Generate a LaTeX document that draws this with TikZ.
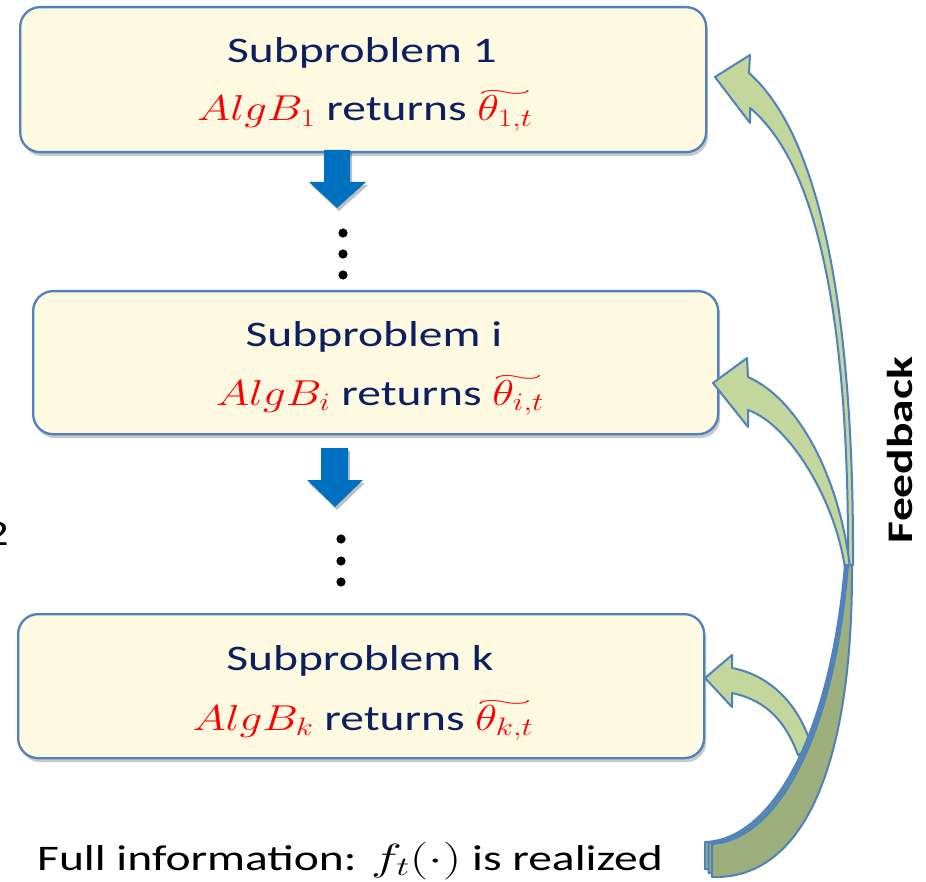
\RequirePackage{fix-cm}
\documentclass[tikz,border=0pt]{standalone}
\usepackage{fontspec}
\usepackage{graphicx}
\setmainfont{Carlito}[FakeStretch=1.32]
\usetikzlibrary{shadows}
\definecolor{boxfill}{HTML}{FEF9E1}
\definecolor{boxline}{HTML}{4F81BD}
\definecolor{navy}{HTML}{0C1F5E}
\definecolor{arrblue}{HTML}{0070C0}
\definecolor{lgreen}{HTML}{C3D69B}
\definecolor{dgreen}{HTML}{9DAF7C}
\newcommand{\mx}[1]{\scalebox{1.25}[1]{$#1$}}
\newcommand{\mxb}[1]{\scalebox{1.45}[1.05]{$#1$}}
\newcommand{\wtil}[1]{\setbox0\hbox{\mx{#1}}\vbox{\offinterlineskip\halign{\hss##\hss\cr
  \resizebox{\wd0}{6pt}{$\sim$}\cr\noalign{\kern-1pt}\box0\cr}}}
\begin{document}
\begin{tikzpicture}[x=1pt,y=-1pt,
  subbox/.style={draw=boxline, line width=2.3pt, fill=boxfill, rounded corners=20pt,
    anchor=north west, inner sep=0pt,
    drop shadow={shadow xshift=2pt,shadow yshift=-4pt,opacity=0.3,fill=black!70}},
  boxtext/.style={anchor=base, text=navy, font=\fontsize{36}{40}\selectfont, inner sep=0pt},
  greenarrow/.style={draw=boxline, line width=2pt, fill=lgreen, line join=round},
  darkband/.style={draw=boxline, line width=2pt, fill=dgreen, line join=round},
  bluearrow/.style={fill=arrblue},
  arrshadow/.style={fill=black, opacity=0.25},
  dot/.style={fill=black}]
\useasboundingbox (0,0) rectangle (926,882);

% boxes
\node[subbox, minimum width=686pt, minimum height=145pt] (b1) at (19,6) {};
\node[subbox, minimum width=685pt, minimum height=143pt] (bi) at (32,290) {};
\node[subbox, minimum width=686pt, minimum height=144pt] (bk) at (17,613) {};

% texts
\node[boxtext] (t1a) at (362,63) {Subproblem 1};
\node[boxtext] (t1b) at (365,121) {{\color{red}\mx{AlgB_1}} returns {\color{red}\wtil{\theta_{1,t}}}};
\node[boxtext] (tia) at (374,347) {Subproblem i};
\node[boxtext] (tib) at (380,405) {{\color{red}\mx{AlgB_i}} returns {\color{red}\wtil{\theta_{i,t}}}};
\node[boxtext] (tka) at (360,670) {Subproblem k};
\node[boxtext] (tkb) at (363,730) {{\color{red}\mx{AlgB_k}} returns {\color{red}\wtil{\theta_{k,t}}}};

\node[anchor=base west, inner sep=0pt, font=\fontsize{36}{40}\selectfont] (full) at (37,870)
  {Full information: \mxb{f_t(\cdot)} is realized};
\node[anchor=base east, inner sep=0pt, font=\fontsize{36}{40}\selectfont] (two) at (9,545) {2};
\node[rotate=90, inner sep=0pt, font=\bfseries\fontsize{36}{40}\selectfont] (fb) at (900,450) {Feedback};

% blue block arrows
\path[arrshadow] (326,153) -- (352,153) -- (352,185) -- (368,185) -- (339,211) -- (311,185) -- (326,185) -- cycle;
\path[bluearrow] (324,150) -- (350,150) -- (350,182) -- (366,182) -- (337,208) -- (309,182) -- (324,182) -- cycle;
\path[arrshadow] (323,451) -- (350,451) -- (350,483) -- (365,483) -- (337,510) -- (309,483) -- (323,483) -- cycle;
\path[bluearrow] (321,448) -- (348,448) -- (348,480) -- (363,480) -- (335,507) -- (307,480) -- (321,480) -- cycle;

% dots
\foreach \yy in {233,254,275} \fill[dot] (343,\yy) circle (4.6);
\foreach \yy in {539,561,582} \fill[dot] (341,\yy) circle (4.6);

% green curved arrows (light parts)
\path[greenarrow] (715,77) -- (750,55) -- (749,73) .. controls (825,140) and (854,330) .. (853,565)
  -- (848,565) .. controls (849,350) and (825,170) .. (750,108) -- (750,123) -- cycle;
\path[greenarrow] (713,383) -- (747,358) -- (748,377) .. controls (800,400) and (840,480) .. (850,568)
  -- (845,568) .. controls (835,500) and (790,425) .. (748,410) -- (748,427) -- cycle;
\path[greenarrow] (705,678) -- (732,655) -- (732,668) .. controls (770,675) and (800,705) .. (812,748)
  -- (798,755) .. controls (785,720) and (765,700) .. (732,693) -- (732,707) -- cycle;

% dark bases
\foreach \n in {0,1,2} {
  \path[darkband] (705+3.5*\n,842+\n) .. controls (770+3*\n,840) and (830+2*\n,740) .. (845+1.5*\n,565)
    -- (849+1.5*\n,565) .. controls (851+\n,760) and (800+3*\n,872+4*\n) .. (705+3.5*\n,869+4*\n) -- cycle;
}
\end{tikzpicture}
\end{document}
